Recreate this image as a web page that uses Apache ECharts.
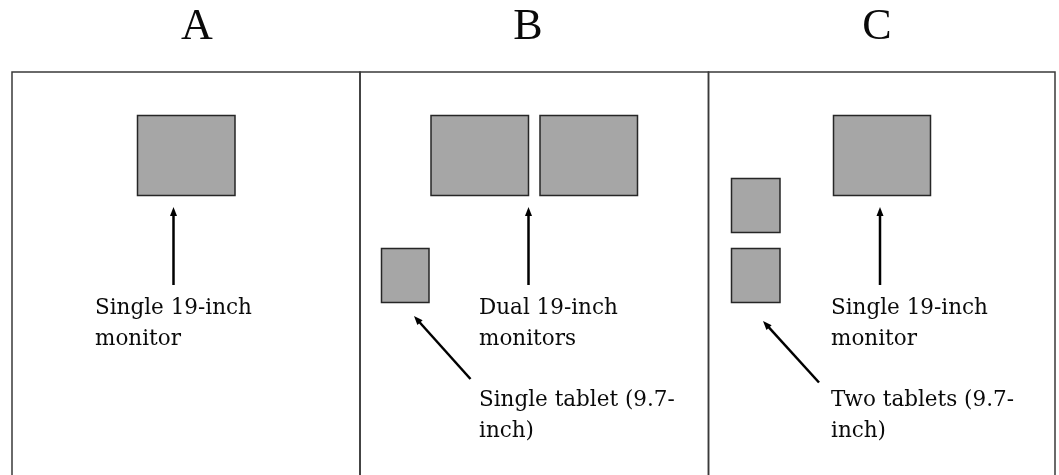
<!DOCTYPE html>
<html>
<head>
<meta charset="utf-8">
<script src="https://cdn.jsdelivr.net/npm/echarts@6/dist/echarts.min.js"></script>
<style>html,body{margin:0;padding:0;background:#fff}#c{width:1059px;height:475px}</style>
</head>
<body>
<div id="c"></div>
<script>
// Diagram content (in page-pixel units of a hidden 1059 x 475 value axis pair)
const panelTitles = ['A', 'B', 'C'];
const titleCenters = [[197, 27], [528, 27], [877, 27]];
const panelBoxes = [[12, 72, 360, 480], [360, 72, 708.5, 480], [708.5, 72, 1055, 480]];
const screenBoxes = [
  [137.5, 115.5, 235, 195.5],   // A monitor
  [431, 115.5, 528.5, 195.5],   // B monitor 1
  [540, 115.5, 637.5, 195.5],   // B monitor 2
  [381.5, 248.5, 429, 302.5],   // B tablet
  [833.5, 115.5, 930.5, 195.5], // C monitor
  [731.5, 178.5, 780, 232.5],   // C tablet 1
  [731.5, 248.5, 780, 302.5]    // C tablet 2
];
const arrowLines = [
  [173.5, 285, 173.5, 207],
  [528.5, 285, 528.5, 207],
  [470.5, 379, 414, 316],
  [880, 285, 880, 207],
  [819, 382.5, 763, 321]
];
const labelTexts = [
  'Single 19-inch', 'monitor',
  'Dual 19-inch', 'monitors',
  'Single tablet (9.7-', 'inch)',
  'Single 19-inch', 'monitor',
  'Two tablets (9.7-', 'inch)'
];
// text baselines
const labelAnchors = [
  [95, 315], [95, 346],
  [479, 315], [479, 346],
  [479, 407], [479, 438],
  [831, 315], [831, 346],
  [831, 407], [831, 438]
];

const chart = echarts.init(document.getElementById('c'), null, {renderer: 'canvas'});
const serif = '"DejaVu Serif", serif';
const titleFont = '"Liberation Serif", "Times New Roman", serif';
const labelSize = 21.5;

function rectItem(stroke, fill, lw) {
  return function (params, api) {
    const p0 = api.coord([api.value(0), api.value(1)]);
    const p1 = api.coord([api.value(2), api.value(3)]);
    return {
      type: 'rect',
      shape: {x: p0[0], y: p0[1], width: p1[0] - p0[0], height: p1[1] - p0[1]},
      style: {fill: fill, stroke: stroke, lineWidth: lw}
    };
  };
}

chart.setOption({
  animation: false,
  grid: {left: 0, right: 0, top: 0, bottom: 0},
  xAxis: {type: 'value', min: 0, max: 1059, show: false},
  yAxis: {type: 'value', min: 0, max: 475, inverse: true, show: false},
  series: [
    {
      type: 'custom', clip: true, silent: true,
      data: panelBoxes,
      renderItem: rectItem('#3a3a3a', 'none', 1.5)
    },
    {
      type: 'custom', clip: true, silent: true,
      data: screenBoxes,
      renderItem: rectItem('#262626', '#a6a6a6', 1.5)
    },
    {
      type: 'custom', silent: true,
      data: arrowLines,
      renderItem: function (params, api) {
        const a = api.coord([api.value(0), api.value(1)]);
        const b = api.coord([api.value(2), api.value(3)]);
        const dx = b[0] - a[0], dy = b[1] - a[1];
        const len = Math.sqrt(dx * dx + dy * dy);
        const ux = dx / len, uy = dy / len;
        const hl = 9, hw = 3.5;
        const base = [b[0] - ux * hl, b[1] - uy * hl];
        return {
          type: 'group',
          children: [
            {type: 'line', shape: {x1: a[0], y1: a[1], x2: base[0] + ux * 2, y2: base[1] + uy * 2},
             style: {stroke: '#000', lineWidth: 2.5}},
            {type: 'polygon', shape: {points: [
              b,
              [base[0] - uy * hw, base[1] + ux * hw],
              [base[0] + uy * hw, base[1] - ux * hw]
            ]}, style: {fill: '#000'}}
          ]
        };
      }
    },
    {
      type: 'custom', silent: true,
      data: labelAnchors,
      renderItem: function (params, api) {
        const p = api.coord([api.value(0), api.value(1)]);
        return {
          type: 'text',
          x: p[0], y: p[1] - labelSize * 0.84,
          style: {text: labelTexts[params.dataIndex], fill: '#0a0a0a', font: labelSize + 'px ' + serif,
                  align: 'left', verticalAlign: 'top'}
        };
      }
    },
    {
      type: 'custom', silent: true,
      data: titleCenters,
      renderItem: function (params, api) {
        const p = api.coord([api.value(0), api.value(1)]);
        return {
          type: 'text',
          x: p[0], y: p[1],
          style: {text: panelTitles[params.dataIndex], fill: '#0a0a0a', font: '44px ' + titleFont,
                  align: 'center', verticalAlign: 'middle'}
        };
      }
    }
  ]
});
</script>
</body>
</html>
